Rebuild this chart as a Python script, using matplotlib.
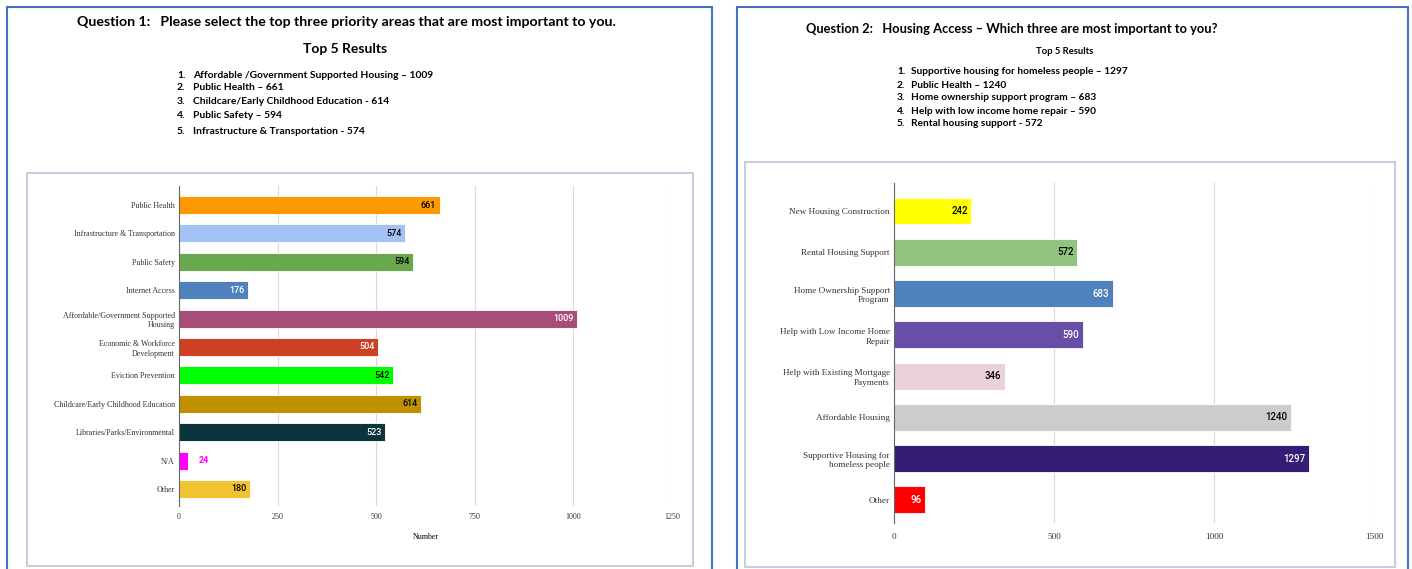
import matplotlib
matplotlib.use('Agg')
import matplotlib.pyplot as plt
from matplotlib.patches import Rectangle

W, H = 1412, 569

# Question 1 data (top to bottom)
q1_labels = ['Public Health', 'Infrastructure & Transportation', 'Public Safety', 'Internet Access',
             'Affordable/Government Supported\nHousing', 'Economic & Workforce\nDevelopment',
             'Eviction Prevention', 'Childcare/Early Childhood Education',
             'Libraries/Parks/Environmental', 'N/A', 'Other']
q1_values = [661, 574, 594, 176, 1009, 504, 542, 614, 523, 24, 180]
q1_colors = ['#FF9900', '#A4C2F4', '#6AA84F', '#4F81BD', '#A64D79', '#CC4125',
             '#00FF00', '#BF9000', '#0C343D', '#FF00FF', '#F1C232']
q1_text = ['black', 'black', 'black', 'white', 'white', 'white',
           'black', 'black', 'white', '#FF00FF', 'black']
q1_ticks = [0, 250, 500, 750, 1000, 1250]
q1_top5 = ['Affordable /Government Supported Housing \u2013 1009', 'Public Health \u2013 661',
           'Childcare/Early Childhood Education - 614', 'Public Safety \u2013 594',
           'Infrastructure & Transportation - 574']

# Question 2 data (top to bottom)
q2_labels = ['New Housing Construction', 'Rental Housing Support', 'Home Ownership Support\nProgram',
             'Help with Low Income Home\nRepair', 'Help with Existing Mortgage\nPayments',
             'Affordable Housing', 'Supportive Housing for\nhomeless people', 'Other']
q2_values = [242, 572, 683, 590, 346, 1240, 1297, 96]
q2_colors = ['#FFFF00', '#93C47D', '#4F81BD', '#674EA7', '#EAD1DC', '#CCCCCC', '#351C75', '#FF0000']
q2_text = ['black', 'black', 'white', 'white', 'black', 'black', 'white', 'white']
q2_ticks = [0, 500, 1000, 1500]
q2_top5 = ['Supportive housing for homeless people \u2013 1297', 'Public Health \u2013 1240',
           'Home ownership support program \u2013 683', 'Help with low income home repair \u2013 590',
           'Rental housing support - 572']

fig = plt.figure(figsize=(W / 100, H / 100), dpi=100)


def fx(x):
    return x / W


def fy(y):
    return 1 - y / H


def box(x0, y0, x1, y1, color, lw):
    fig.patches.append(Rectangle((fx(x0), fy(y1)), fx(x1) - fx(x0), fy(y0) - fy(y1),
                                 transform=fig.transFigure, fill=False, edgecolor=color, lw=lw))


# outer page frames and inner chart frames
box(7, 7, 712, 575, '#4472C4', 1.5)
box(737, 7, 1408, 575, '#4472C4', 1.5)
box(27, 173, 693, 566, '#C3CEE2', 1.5)
box(745, 162, 1395, 567, '#C3CEE2', 1.5)

title_font = ['Lato', 'DejaVu Sans']

# headers
fig.text(fx(77), fy(22), 'Question 1:   Please select the top three priority areas that are most important to you.',
         family=title_font, fontweight='bold', fontsize=10.15, va='center', ha='left')
fig.text(fx(345), fy(49), 'Top 5 Results', family=title_font, fontweight='bold', fontsize=10,
         va='center', ha='center')
for i, t in enumerate(q1_top5):
    y = [75, 88, 102, 116, 131][i]
    fig.text(fx(177), fy(y), f'{i + 1}.', family=title_font, fontweight='bold', fontsize=7.4, va='center')
    fig.text(fx(193), fy(y), t, family=title_font, fontweight='bold', fontsize=7.4, va='center')

fig.text(fx(806), fy(29), 'Question 2:   Housing Access \u2013 Which three are most important to you?',
         family=title_font, fontweight='bold', fontsize=9.25, va='center', ha='left')
fig.text(fx(1065), fy(51), 'Top 5 Results', family=title_font, fontweight='bold', fontsize=6.8,
         va='center', ha='center')
for i, t in enumerate(q2_top5):
    y = [72, 85, 98, 111, 124][i]
    fig.text(fx(897), fy(y), f'{i + 1}.', family=title_font, fontweight='bold', fontsize=7.3, va='center')
    fig.text(fx(911), fy(y), t, family=title_font, fontweight='bold', fontsize=7.3, va='center')


def bar_chart(rect, labels, values, colors, text_colors, ticks, ylim, height, fs, vfs, xpad, xlabel=None):
    x0, y0, x1, y1 = rect
    ax = fig.add_axes([fx(x0), fy(y1), fx(x1) - fx(x0), fy(y0) - fy(y1)])
    pos = list(range(len(labels)))
    ax.barh(pos, values, height=height, color=colors, edgecolor='white', linewidth=0.6, zorder=2)
    ax.set_ylim(*ylim)
    ax.set_xlim(ticks[0], ticks[-1])
    ax.set_xticks(ticks)
    ax.set_yticks(pos)
    ax.set_yticklabels(labels, family='Liberation Serif', fontsize=fs, linespacing=1.3)
    for lab in ax.get_xticklabels():
        lab.set_family('Liberation Serif')
        lab.set_fontsize(fs)
    ax.tick_params(axis='both', length=0, colors='#333333')
    ax.tick_params(axis='y', pad=3)
    ax.tick_params(axis='x', pad=xpad)
    ax.grid(axis='x', color='#D9D9D9', lw=0.8, zorder=0)
    for s in ['top', 'right', 'bottom']:
        ax.spines[s].set_visible(False)
    ax.spines['left'].set_color('#666666')
    ax.spines['left'].set_linewidth(0.8)
    ax.spines['left'].set_zorder(3)
    span = ticks[-1] - ticks[0]
    for p, v, c in zip(pos, values, text_colors):
        if v < span * 0.05:
            ax.text(v + span * 0.02, p, str(v), color=c, fontsize=vfs, fontweight='bold',
                    va='center', ha='left', family='Roboto', zorder=4)
        else:
            ax.text(v - span * 0.007, p, str(v), color=c, fontsize=vfs, va='center', ha='right',
                    family='Roboto', fontweight='medium', zorder=4)
    if xlabel:
        ax.set_xlabel(xlabel, family='Liberation Serif', fontsize=fs, labelpad=9)
    return ax


bar_chart((179, 186, 672, 506), q1_labels, q1_values, q1_colors, q1_text, q1_ticks,
          (10.6, -0.67), 0.63, 5.8, 6.5, 5, xlabel='Number')
bar_chart((894, 183, 1374, 523), q2_labels, q2_values, q2_colors, q2_text, q2_ticks,
          (7.56, -0.68), 0.65, 6.6, 7, 7)

fig.savefig('out.png', dpi=100)
